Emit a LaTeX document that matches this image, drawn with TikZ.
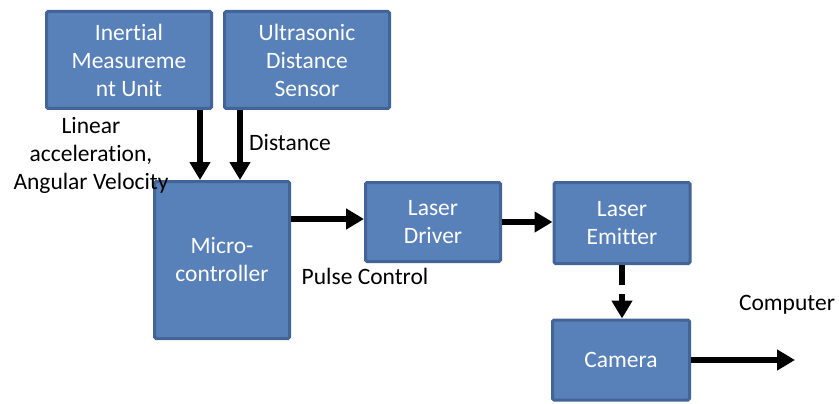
\documentclass[tikz,border=0pt]{standalone}
\usepackage{fontspec}
\setmainfont[Ligatures=NoCommon]{Carlito}
\usetikzlibrary{arrows.meta}
\definecolor{boxfill}{HTML}{5881B9}
\definecolor{boxline}{HTML}{436496}
\tikzset{
  blk/.style={rectangle, rounded corners=1.5pt, fill=boxfill, draw=boxline, line width=3pt, text=white, align=center, inner sep=0pt},
  lbl/.style={text=black, align=center, inner sep=0pt},
  arr/.style={line width=6.5pt, -{Triangle[width=20pt,length=18pt]}},
}
\begin{document}
\begin{tikzpicture}[x=1pt,y=-1pt, every node/.style={font=\fontsize{23.5}{28}\selectfont}]
\useasboundingbox (0,0) rectangle (839,404);
\node[blk, minimum width=165pt, minimum height=97pt] (imu) at (129,60) {Inertial\\Measureme\\nt Unit};
\node[blk, minimum width=165pt, minimum height=97pt] (uds) at (307,60) {Ultrasonic\\Distance\\Sensor};
\node[blk, minimum width=135pt, minimum height=157pt] (mc) at (222,260) {Micro-\\controller};
\node[blk, minimum width=135pt, minimum height=79pt] (ld) at (433,222) {Laser\\Driver};
\node[blk, minimum width=136pt, minimum height=81pt] (le) at (622,223) {Laser\\Emitter};
\node[blk, minimum width=137pt, minimum height=80pt] (cam) at (621,360) {Camera};
\coordinate (pc) at (795,360);
\node[lbl] (la) at (91,155) {Linear\\acceleration,\\Angular Velocity};
\node[lbl] (ldist) at (290,143) {Distance};
\node[lbl] (lpulse) at (365,276) {Pulse Control};
\node[lbl] (lcomp) at (787,305) {Computer};
\draw[arr] ([xshift=71pt]imu.south) -- ([xshift=71pt]imu.south |- mc.north);
\draw[arr] ([xshift=-67pt]uds.south) -- ([xshift=-67pt]uds.south |- mc.north);
\draw[arr] ([yshift=3pt]mc.east |- ld.west) -- ([yshift=3pt]ld.west);
\draw[arr] (ld.east) -- (ld.east -| le.west);
\draw[arr, dash pattern=on 20pt off 9pt] (le.south) -- (le.south |- cam.north);
\draw[arr] (cam.east) -- (pc);
\end{tikzpicture}
\end{document}
